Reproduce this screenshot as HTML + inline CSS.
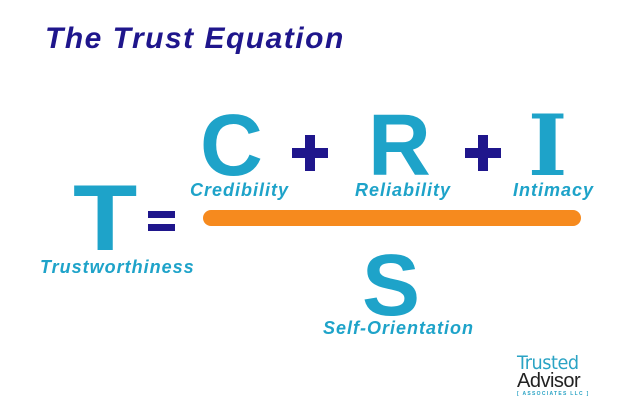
<!DOCTYPE html>
<html><head><style>
body{margin:0;width:640px;height:420px;background:#fff;position:relative;overflow:hidden;font-family:"Liberation Sans",Arial,sans-serif}
.a{position:absolute;line-height:1;white-space:nowrap;font-weight:bold}
.c{color:#1ea3c9}
.l{font-style:italic;font-size:18px;color:#1ea3c9;letter-spacing:1px}
.p{position:absolute;background:#1f168c}
</style></head><body>
<div class="a" style="left:45px;top:24px;font-size:30px;font-style:italic;color:#1f168c;letter-spacing:1.5px">The Trust Equation</div>
<div class="a c" style="left:73px;top:171px;font-size:94px;transform:scaleX(1.12);transform-origin:left">T</div>
<div class="p" style="left:148px;top:211px;width:27px;height:7px"></div>
<div class="p" style="left:148px;top:224px;width:27px;height:7px"></div>
<div class="a c" style="left:200px;top:102px;font-size:87px">C</div>
<div class="p" style="left:292px;top:148px;width:36px;height:10px"></div>
<div class="p" style="left:305px;top:135px;width:10px;height:36px"></div>
<div class="a c" style="left:368px;top:102px;font-size:87px">R</div>
<div class="p" style="left:465px;top:148px;width:36px;height:10px"></div>
<div class="p" style="left:478px;top:135px;width:10px;height:36px"></div>
<div class="a c" style="left:528px;top:104px;font-size:84px;font-family:'DejaVu Serif',serif">I</div>
<div class="a l" style="left:190px;top:181px">Credibility</div>
<div class="a l" style="left:355px;top:181px">Reliability</div>
<div class="a l" style="left:513px;top:181px">Intimacy</div>
<div style="position:absolute;left:203px;top:210px;width:378px;height:16px;border-radius:8px;background:#f68a1e"></div>
<div class="a c" style="left:362px;top:242px;font-size:87px">S</div>
<div class="a l" style="left:40px;top:258px">Trustworthiness</div>
<div class="a l" style="left:323px;top:319px">Self-Orientation</div>
<div class="a" style="left:517px;top:354px;font-size:19px;color:#2aa3c4;font-family:'DejaVu Sans',sans-serif;font-weight:normal;letter-spacing:-0.5px;transform:scaleX(0.93);transform-origin:left">Trusted</div>
<div class="a" style="left:517px;top:371px;font-size:20px;color:#222;font-weight:normal;letter-spacing:-0.5px">Advisor</div>
<div class="a" style="left:517px;top:392px;font-size:5px;color:#2aa3c4;letter-spacing:1.3px">[ ASSOCIATES LLC ]</div>
</body></html>
